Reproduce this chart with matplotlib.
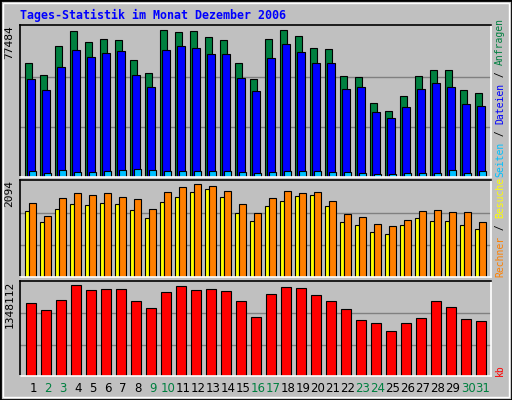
import numpy as np
import matplotlib.pyplot as plt
from matplotlib.patches import Rectangle

days = np.arange(1, 32)
weekend = [2, 3, 9, 10, 16, 17, 23, 24, 30, 31]

anfragen = [60130, 53818, 69070, 76958, 71174, 72752, 72226, 61707, 54870, 77484,
            76432, 76958, 73803, 72226, 60130, 51715, 72752, 77484, 74329, 68018,
            67492, 53292, 52767, 39093, 34885, 42774, 53292, 56448, 56448, 45930, 44352]
dateien = [51714, 45929, 58024, 66965, 63283, 65387, 66439, 53817, 47506, 66965,
           69068, 68016, 64861, 64861, 52239, 45403, 62757, 70120, 65913, 60128,
           60128, 46455, 47506, 34359, 31203, 36988, 46455, 49610, 47506, 38566, 37514]
seiten = [3330, 2280, 3850, 2800, 2800, 3330, 3850, 4380, 3850, 3330,
          3330, 3330, 3330, 3330, 2800, 2280, 2800, 3330, 3330, 3330,
          2800, 2800, 2280, 1750, 1750, 2280, 2280, 2280, 3850, 2280, 3330]
besuche = [1482, 1232, 1527, 1640, 1618, 1663, 1640, 1504, 1323, 1686,
           1799, 1913, 1981, 1799, 1436, 1255, 1595, 1709, 1822, 1845,
           1595, 1232, 1164, 1028, 983, 1164, 1323, 1255, 1255, 1164, 1096]
rechner = [1663, 1368, 1777, 1890, 1845, 1890, 1799, 1754, 1527, 1913,
           2026, 2094, 2049, 1935, 1640, 1436, 1777, 1935, 1890, 1913,
           1709, 1414, 1346, 1187, 1142, 1278, 1482, 1504, 1459, 1459, 1232]
kb = [1082400, 979080, 1126680, 1348112, 1274280, 1289040, 1289040, 1111920, 1008600, 1244760,
      1333320, 1274280, 1289040, 1259520, 1111920, 875760, 1215240, 1318560, 1303800, 1200480,
      1111920, 993840, 831480, 787200, 669120, 787200, 861000, 1111920, 1023360, 846240, 816720]

BG = '#C0C0C0'
GREEN = '#008040'
W, H = 512, 400

fig = plt.figure(figsize=(W / 100, H / 100), dpi=100, facecolor=BG)
# outer frame
fig.patches.append(Rectangle((0, 0), 1, 1, transform=fig.transFigure, fill=False,
                             edgecolor='black', linewidth=2))
fig.patches.append(Rectangle((3 / W, 3 / H), 1 - 6 / W, 1 - 6 / H, transform=fig.transFigure,
                             fill=False, edgecolor='white', linewidth=1))


def make_ax(top, bottom):
    ax = fig.add_axes([20 / W, (H - bottom) / H, 471 / W, (bottom - top) / H])
    ax.set_facecolor(BG)
    ax.set_xlim(0.13, 31.53)
    ax.set_xticks([])
    ax.set_yticks([])
    ax.spines['left'].set_color('black')
    ax.spines['top'].set_color('black')
    ax.spines['right'].set_color('white')
    ax.spines['bottom'].set_color('white')
    for s in ax.spines.values():
        s.set_linewidth(1.2)
    return ax


def grid(ax, vmax):
    for f in (1 / 3, 2 / 3):
        ax.axhline(vmax * f, color='#808080', linewidth=1, zorder=0)


def side_label(top, bottom, parts, x=500):
    # parts drawn bottom to top, rotated
    ch = 5.9
    y = bottom
    for text, col in parts:
        fig.text(x / W, (H - y) / H, text, rotation=90, ha='center', va='bottom',
                 color=col, family='DejaVu Sans Mono', fontsize=7)
        y -= ch * len(text)


def max_label(ax, txt):
    ax.text(-0.012, 1.0, txt, transform=ax.transAxes, rotation=90, ha='right', va='top',
            family='DejaVu Sans Mono', fontsize=8, color='black')


kw = dict(edgecolor='black', linewidth=0.8, align='edge')

# top panel
ax1 = make_ax(25, 177)
m1 = max(anfragen)
ax1.set_ylim(0, m1 * 457 / 442)
grid(ax1, m1 * 1.02)
ax1.bar(days - 0.51, anfragen, width=0.47, color=GREEN, **kw)
ax1.bar(days - 0.40, dateien, width=0.53, color='#0000FF', **kw)
ax1.bar(days - 0.25, seiten, width=0.47, color='#00C0FF', **kw)
max_label(ax1, '77484')
side_label(25, 177, [('Seiten', '#00C0FF'), (' / ', 'black'), ('Dateien', '#0000FF'),
                     (' / ', 'black'), ('Anfragen', GREEN)])

# middle panel
ax2 = make_ax(180, 277)
m2 = max(rechner)
ax2.set_ylim(0, m2 * 290 / 277)
grid(ax2, m2 * 1.03)
ax2.bar(days - 0.51, besuche, width=0.26, color='#FFFF00', **kw)
ax2.bar(days - 0.25, rechner, width=0.47, color='#FF8000', **kw)
max_label(ax2, '2094')
side_label(180, 277, [('Rechner', '#FF8000'), (' / ', 'black'), ('Besuche', '#FFFF00')])

# bottom panel
ax3 = make_ax(281, 376)
m3 = max(kb)
ax3.set_ylim(0, m3 * 285 / 274)
grid(ax3, m3 * 1.03)
ax3.bar(days - 0.45, kb, width=0.67, color='#FF0000', **kw)
max_label(ax3, '1348112')
side_label(281, 376, [('kb', '#FF0000')])

# day labels
for d in days:
    ax3.text(d, -0.13, str(d), transform=ax3.get_xaxis_transform(), ha='center', va='center',
             fontsize=8.5, color=GREEN if d in weekend else 'black')

fig.text(20 / W, (H - 15) / H, 'Tages-Statistik im Monat Dezember 2006', ha='left', va='center',
         family='DejaVu Sans Mono', fontweight='bold', fontsize=8.4, color='#0000FF')

fig.savefig('out.png', dpi=100, facecolor=BG)
